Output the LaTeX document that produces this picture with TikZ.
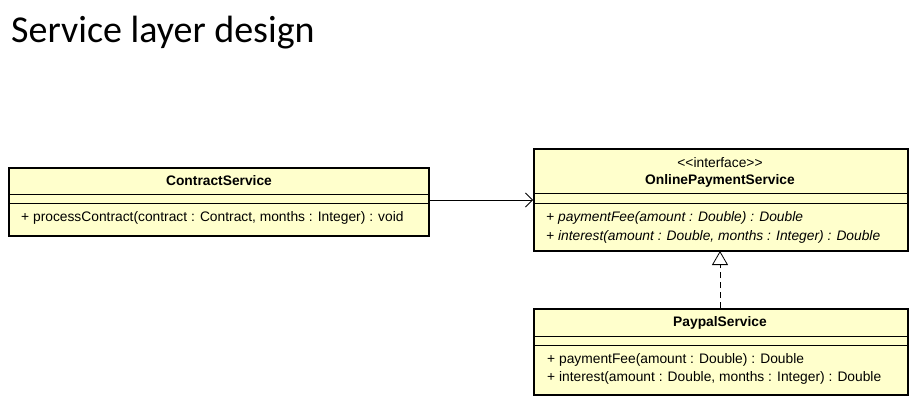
\documentclass[tikz,border=0pt]{standalone}
\usepackage{fontspec}
\setmainfont{Liberation Sans}
\newfontfamily\titlefont{Carlito}
\usetikzlibrary{arrows.meta}
\definecolor{umlfill}{RGB}{255,255,204}
\tikzset{
  classbox/.style={draw=black, line width=1.6pt, fill=umlfill, inner sep=0pt, anchor=north west},
  sepline/.style={draw=black, line width=0.8pt},
  txt/.style={inner sep=0pt, font=\fontsize{13.8}{15}\selectfont},
  meth/.style={txt, anchor=west},
  cname/.style={txt, font=\fontsize{13.8}{15}\selectfont\bfseries},
}
\begin{document}
\begin{tikzpicture}[x=1pt,y=-1pt]
\useasboundingbox (0,0) rectangle (921,407);
\node[anchor=base west, inner sep=0pt, font=\titlefont\fontsize{38}{44}\selectfont] (title) at (11,42) {Service layer design};

% ContractService
\node[classbox, minimum width=420pt, minimum height=68pt] (cs) at (8,167) {};
\draw[sepline] (8,194) -- (428,194);
\draw[sepline] (8,203) -- (428,203);
\node[cname] (csname) at (219,181) {ContractService};
\node[meth] (csm) at (21,218) {+ processContract(contract : Contract, months : Integer) : void};

% OnlinePaymentService
\node[classbox, minimum width=374pt, minimum height=102pt] (ops) at (533,148) {};
\draw[sepline] (533,193) -- (907,193);
\draw[sepline] (533,203) -- (907,203);
\node[txt] (opsst) at (720,163) {{<}{<}interface{>}{>}};
\node[cname] (opsname) at (720,181) {OnlinePaymentService};
\node[meth, font=\fontsize{13.8}{15}\selectfont\itshape] (opsm1) at (546,218) {+ paymentFee(amount : Double) : Double};
\node[meth, font=\fontsize{13.8}{15}\selectfont\itshape] (opsm2) at (546,237) {+ interest(amount : Double, months : Integer) : Double};

% PaypalService
\node[classbox, minimum width=374pt, minimum height=86pt] (pp) at (533,308) {};
\draw[sepline] (533,336) -- (907,336);
\draw[sepline] (533,345) -- (907,345);
\node[cname] (ppname) at (720,323) {PaypalService};
\node[meth] (ppm1) at (547,360) {+ paymentFee(amount : Double) : Double};
\node[meth] (ppm2) at (547,378) {+ interest(amount : Double, months : Integer) : Double};

% connectors
\coordinate (a1) at (cs.east |- 0,200);
\coordinate (a2) at (ops.west |- 0,200);
\draw[line width=0.8pt, -{Straight Barb[length=7pt,width=14pt,line width=0.8pt]}] (a1) -- (a2);
\coordinate (r1) at (720,308);
\coordinate (r2) at (720,251);
\draw[line width=0.8pt, dashed, dash pattern=on 6pt off 4pt, -{Triangle[open,length=14pt,width=16pt,line width=0.8pt]}] (r1) -- (r2);
\end{tikzpicture}
\end{document}
